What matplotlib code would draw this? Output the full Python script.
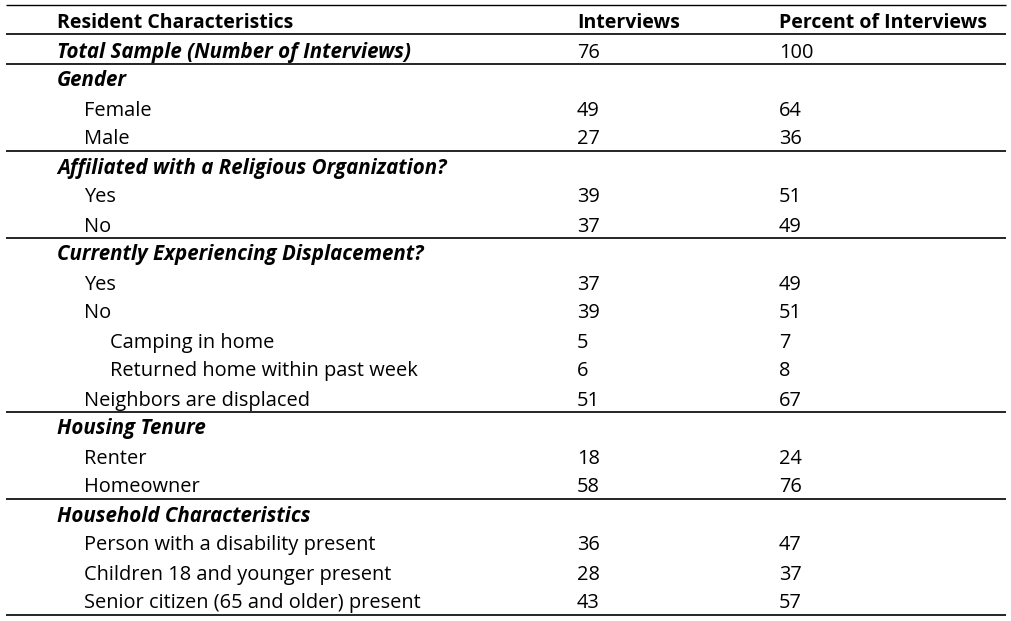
import matplotlib
matplotlib.use("Agg")
import matplotlib.pyplot as plt

headers = ["Resident Characteristics", "Interviews", "Percent of Interviews"]
labels = [
    "Total Sample (Number of Interviews)",
    "Gender", "Female", "Male",
    "Affiliated with a Religious Organization?", "Yes", "No",
    "Currently Experiencing Displacement?", "Yes", "No",
    "Camping in home", "Returned home within past week", "Neighbors are displaced",
    "Housing Tenure", "Renter", "Homeowner",
    "Household Characteristics", "Person with a disability present",
    "Children 18 and younger present", "Senior citizen (65 and older) present",
]
levels = [0, 0, 1, 1, 0, 1, 1, 0, 1, 1, 2, 2, 1, 0, 1, 1, 0, 1, 1, 1]
interviews = ["76", "", "49", "27", "", "39", "37", "", "37", "39", "5", "6", "51", "", "18", "58", "", "36", "28", "43"]
percents = ["100", "", "64", "36", "", "51", "49", "", "49", "51", "7", "8", "67", "", "24", "76", "", "47", "37", "57"]
# rows after which a horizontal rule is drawn (index in data rows)
rule_after = [0, 3, 6, 12, 15, 19]

W, H = 1011, 621
fig = plt.figure(figsize=(W / 100, H / 100), dpi=100)
ax = fig.add_axes([0, 0, 1, 1])
ax.set_xlim(0, W)
ax.set_ylim(H, 0)
ax.axis("off")

font = "Open Sans"
fs_head = 14.0
fs_reg = 14.4
fs_bi = 14.8
row_h = 29.0
y0 = 20.0
base = 8.5
x_lab = [57, 84, 110]
x_int = 577
x_pct = 779
x_l, x_r = 6, 1006

kw = dict(family=font, va="baseline", ha="left", color="black")

# header
for x, h in zip([x_lab[0], x_int, x_pct], headers):
    ax.text(x, y0 + base - 0.5, h, fontsize=fs_head, fontweight="bold", **kw)
ax.plot([x_l, x_r], [4.5, 4.5], color="black", lw=1.0, solid_capstyle="butt")
ax.plot([x_l, x_r], [33.5, 33.5], color="black", lw=1.2, solid_capstyle="butt")

for i, (lab, lev, iv, pc) in enumerate(zip(labels, levels, interviews, percents)):
    yc = y0 + row_h * (i + 1)
    y = round(yc + base)
    if lev == 0:
        ax.text(x_lab[lev], y, lab, fontsize=fs_bi, fontweight="bold", fontstyle="italic", **kw)
    else:
        ax.text(x_lab[lev], y, lab, fontsize=fs_reg, **kw)
    ax.text(x_int, y, iv, fontsize=fs_reg, **kw)
    ax.text(x_pct, y, pc, fontsize=fs_reg, **kw)
    if i in rule_after:
        yl = yc + row_h / 2
        ax.plot([x_l, x_r], [yl, yl], color="black", lw=1.2, solid_capstyle="butt")

fig.savefig("out.png", dpi=100)
